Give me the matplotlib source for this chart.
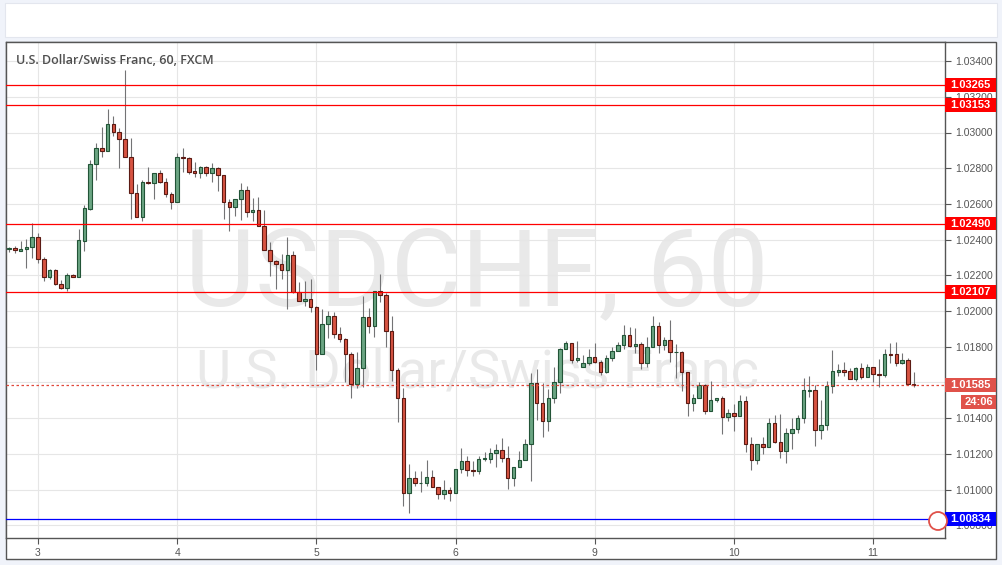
import numpy as np
import matplotlib
matplotlib.use('Agg')
import matplotlib.pyplot as plt
import matplotlib.transforms as mtransforms
from matplotlib.patches import Rectangle, Circle

# hourly USD/CHF candles (open, high, low, close)
opens = np.array([
    1.02346, 1.02351, 1.02338, 1.02346, 1.02357, 1.02413, 1.02290, 1.02189, 1.02230, 1.02150,
    1.02127, 1.02200, 1.02189, 1.02394, 1.02571, 1.02822, 1.02911, 1.02894, 1.03046, 1.03001,
    1.02962, 1.02864, 1.02662, 1.02525, 1.02724, 1.02715, 1.02774, 1.02724, 1.02655, 1.02612,
    1.02862, 1.02855, 1.02784, 1.02771, 1.02805, 1.02771, 1.02799, 1.02760, 1.02609, 1.02581,
    1.02626, 1.02676, 1.02553, 1.02564, 1.02474, 1.02340, 1.02278, 1.02262, 1.02228, 1.02312,
    1.02108, 1.02054, 1.02066, 1.02021, 1.01758, 1.01927, 1.01970, 1.01870, 1.01842, 1.01758,
    1.01593, 1.01679, 1.01965, 1.01914, 1.02110, 1.02088, 1.01886, 1.01668, 1.01511, 1.00979,
    1.01063, 1.01035, 1.01035, 1.01069, 1.01013, 1.00974, 1.00996, 1.00979, 1.01114, 1.01158,
    1.01110, 1.01102, 1.01169, 1.01173, 1.01203, 1.01220, 1.01179, 1.01063, 1.01125, 1.01164,
    1.01254, 1.01595, 1.01483, 1.01382, 1.01511, 1.01601, 1.01786, 1.01819, 1.01724, 1.01685,
    1.01707, 1.01741, 1.01713, 1.01657, 1.01735, 1.01774, 1.01808, 1.01864, 1.01802, 1.01813,
    1.01707, 1.01797, 1.01914, 1.01808, 1.01836, 1.01769, 1.01769, 1.01657, 1.01483, 1.01511,
    1.01587, 1.01438, 1.01500, 1.01511, 1.01405, 1.01427, 1.01410, 1.01494, 1.01254, 1.01164,
    1.01254, 1.01237, 1.01371, 1.01265, 1.01214, 1.01315, 1.01337, 1.01399, 1.01554, 1.01558,
    1.01332, 1.01360, 1.01580, 1.01660, 1.01668, 1.01662, 1.01618, 1.01679, 1.01629, 1.01685,
    1.01647, 1.01640, 1.01759, 1.01758, 1.01707, 1.01724, 1.01591])
highs = np.array([
    1.02360, 1.02364, 1.02390, 1.02402, 1.02491, 1.02437, 1.02304, 1.02234, 1.02234, 1.02174,
    1.02211, 1.02205, 1.02457, 1.02594, 1.02846, 1.02939, 1.03032, 1.03131, 1.03092, 1.03027,
    1.03350, 1.02967, 1.02711, 1.02734, 1.02805, 1.02774, 1.02790, 1.02743, 1.02668, 1.02887,
    1.02911, 1.02864, 1.02834, 1.02812, 1.02814, 1.02827, 1.02808, 1.02760, 1.02626, 1.02626,
    1.02717, 1.02700, 1.02631, 1.02637, 1.02566, 1.02386, 1.02286, 1.02319, 1.02413, 1.02336,
    1.02161, 1.02166, 1.02178, 1.02030, 1.02010, 1.02002, 1.01996, 1.01909, 1.01851, 1.01769,
    1.01772, 1.02084, 1.02015, 1.02110, 1.02206, 1.02099, 1.01972, 1.01679, 1.01567, 1.01143,
    1.01106, 1.01106, 1.01166, 1.01110, 1.01013, 1.01054, 1.01014, 1.01114, 1.01233, 1.01188,
    1.01160, 1.01188, 1.01209, 1.01231, 1.01255, 1.01289, 1.01244, 1.01125, 1.01216, 1.01283,
    1.01651, 1.01673, 1.01595, 1.01562, 1.01685, 1.01791, 1.01832, 1.01819, 1.01830, 1.01752,
    1.01786, 1.01819, 1.01726, 1.01752, 1.01800, 1.01828, 1.01922, 1.01909, 1.01903, 1.01825,
    1.01856, 1.01974, 1.01938, 1.01856, 1.01950, 1.01815, 1.01774, 1.01657, 1.01537, 1.01604,
    1.01593, 1.01610, 1.01511, 1.01522, 1.01450, 1.01478, 1.01528, 1.01522, 1.01293, 1.01254,
    1.01293, 1.01399, 1.01418, 1.01423, 1.01343, 1.01399, 1.01418, 1.01625, 1.01636, 1.01586,
    1.01502, 1.01608, 1.01782, 1.01701, 1.01714, 1.01679, 1.01684, 1.01707, 1.01701, 1.01688,
    1.01731, 1.01786, 1.01819, 1.01826, 1.01763, 1.01735, 1.01658])
lows = np.array([
    1.02330, 1.02323, 1.02334, 1.02242, 1.02295, 1.02270, 1.02170, 1.02178, 1.02146, 1.02122,
    1.02114, 1.02189, 1.02189, 1.02338, 1.02566, 1.02732, 1.02861, 1.02894, 1.02982, 1.02802,
    1.02861, 1.02514, 1.02525, 1.02506, 1.02711, 1.02626, 1.02715, 1.02640, 1.02570, 1.02612,
    1.02777, 1.02765, 1.02752, 1.02746, 1.02754, 1.02724, 1.02674, 1.02517, 1.02450, 1.02532,
    1.02510, 1.02525, 1.02506, 1.02474, 1.02340, 1.02198, 1.02122, 1.02181, 1.02010, 1.02102,
    1.02054, 1.02030, 1.01996, 1.01671, 1.01758, 1.01847, 1.01847, 1.01825, 1.01604, 1.01514,
    1.01567, 1.01576, 1.01878, 1.01856, 1.02052, 1.01800, 1.01610, 1.01380, 1.00910, 1.00870,
    1.01020, 1.00985, 1.01020, 1.01013, 1.00949, 1.00949, 1.00938, 1.00979, 1.01091, 1.01078,
    1.01078, 1.01086, 1.01162, 1.01147, 1.01125, 1.01154, 1.01005, 1.01022, 1.01125, 1.01164,
    1.01050, 1.01390, 1.01293, 1.01326, 1.01483, 1.01539, 1.01786, 1.01706, 1.01713, 1.01685,
    1.01696, 1.01707, 1.01640, 1.01651, 1.01722, 1.01774, 1.01786, 1.01797, 1.01763, 1.01674,
    1.01685, 1.01797, 1.01763, 1.01782, 1.01713, 1.01623, 1.01554, 1.01414, 1.01438, 1.01511,
    1.01425, 1.01438, 1.01490, 1.01313, 1.01382, 1.01326, 1.01410, 1.01209, 1.01108, 1.01141,
    1.01198, 1.01237, 1.01259, 1.01178, 1.01150, 1.01226, 1.01315, 1.01371, 1.01520, 1.01246,
    1.01281, 1.01332, 1.01542, 1.01638, 1.01638, 1.01618, 1.01607, 1.01618, 1.01629, 1.01602,
    1.01576, 1.01629, 1.01707, 1.01692, 1.01701, 1.01591, 1.01573])
closes = np.array([
    1.02353, 1.02340, 1.02347, 1.02357, 1.02414, 1.02290, 1.02189, 1.02230, 1.02151, 1.02127,
    1.02200, 1.02189, 1.02398, 1.02575, 1.02822, 1.02911, 1.02894, 1.03046, 1.03001, 1.02962,
    1.02864, 1.02662, 1.02525, 1.02724, 1.02715, 1.02774, 1.02724, 1.02655, 1.02612, 1.02861,
    1.02855, 1.02780, 1.02771, 1.02805, 1.02771, 1.02799, 1.02760, 1.02609, 1.02581, 1.02626,
    1.02676, 1.02553, 1.02564, 1.02474, 1.02340, 1.02278, 1.02262, 1.02228, 1.02312, 1.02108,
    1.02054, 1.02066, 1.02021, 1.01758, 1.01927, 1.01970, 1.01870, 1.01842, 1.01758, 1.01593,
    1.01679, 1.01965, 1.01914, 1.02110, 1.02088, 1.01886, 1.01668, 1.01511, 1.00979, 1.01063,
    1.01035, 1.01035, 1.01069, 1.01013, 1.00974, 1.00996, 1.00979, 1.01114, 1.01158, 1.01108,
    1.01102, 1.01169, 1.01175, 1.01203, 1.01220, 1.01179, 1.01063, 1.01125, 1.01164, 1.01255,
    1.01595, 1.01483, 1.01382, 1.01511, 1.01601, 1.01786, 1.01819, 1.01724, 1.01735, 1.01707,
    1.01741, 1.01713, 1.01657, 1.01735, 1.01774, 1.01808, 1.01864, 1.01802, 1.01813, 1.01707,
    1.01797, 1.01914, 1.01808, 1.01836, 1.01769, 1.01772, 1.01657, 1.01483, 1.01511, 1.01587,
    1.01438, 1.01500, 1.01511, 1.01405, 1.01427, 1.01410, 1.01494, 1.01254, 1.01164, 1.01254,
    1.01237, 1.01371, 1.01265, 1.01214, 1.01315, 1.01337, 1.01399, 1.01558, 1.01558, 1.01332,
    1.01360, 1.01580, 1.01662, 1.01668, 1.01660, 1.01618, 1.01679, 1.01629, 1.01685, 1.01646,
    1.01640, 1.01758, 1.01754, 1.01707, 1.01724, 1.01591, 1.01585])

# day labels and the candle index where each day starts
day_labels = ['3', '4', '5', '6', '9', '10', '11']
day_index = [5, 29, 53, 77, 101, 125, 149]

# horizontal levels drawn on the chart
red_levels = [1.03265, 1.03153, 1.02490, 1.02107]
blue_level = 1.00834
last_price = 1.01585
countdown = '24:06'

W, H = 1002, 565
PX = 0.001 / 17.85   # price per pixel

fig = plt.figure(figsize=(W / 100, H / 100), dpi=100, facecolor='#f0f3fa')
fig.patches.append(Rectangle((5 / W, 1 - 37 / H), 992 / W, 34 / H, transform=fig.transFigure,
                             facecolor='white', edgecolor='#e3e6ee', lw=0.8, zorder=-2))
fig.patches.append(Rectangle((6 / W, 1 - 559 / H), 990 / W, 517 / H, transform=fig.transFigure,
                             facecolor='white', edgecolor='#555555', lw=1.0, zorder=-2))

ax = fig.add_axes([6 / W, 1 - 538 / H, 939 / W, 496 / H])
ax.set_facecolor('white')

idx = np.arange(len(opens))
up = closes >= opens
bottom = np.minimum(opens, closes)
height = np.abs(closes - opens)

ax.vlines(idx, lows, highs, color='#737375', lw=0.8, zorder=2)
ax.bar(idx[up], height[up], bottom=bottom[up], width=0.6, color='#6ba583',
       edgecolor='#225437', lw=0.8, zorder=3)
ax.bar(idx[~up], height[~up], bottom=bottom[~up], width=0.6, color='#d75442',
       edgecolor='#5b1a13', lw=0.8, zorder=3)

for lv in red_levels:
    ax.axhline(lv, color='#ff0000', lw=0.9, zorder=4)
ax.axhline(blue_level, color='#0000ff', lw=0.9, zorder=4)
ax.axhline(last_price, color='#e0473a', lw=0.9, ls=(0, (2, 2)), zorder=4)

ax.set_xlim(-0.52, 161.4)
ax.set_ylim(1.02 - 227 * PX, 1.02 + 269 * PX)

# watermark
ax.text(0.5016, 0.4698, 'USDCHF, 60', transform=ax.transAxes, ha='center', va='baseline',
        fontsize=78, family='Roboto', color='#e9e9e9', zorder=0.1)
ax.text(0.5016, 0.3034, 'U.S. Dollar/Swiss Franc', transform=ax.transAxes, ha='center',
        va='baseline', fontsize=39, family='Roboto', color='#e9e9e9', zorder=0.1)

ax.text(10 / 939, (538 - 61) / 496, 'U.S. Dollar/Swiss Franc, 60, FXCM', transform=ax.transAxes,
        ha='left', va='center', fontsize=9, family='Open Sans', fontweight='semibold',
        color='#4f4f4f', zorder=6)

ax.set_yticks(np.arange(1.008, 1.0341, 0.002))
ax.set_yticklabels(['%.5f' % v for v in np.arange(1.008, 1.0341, 0.002)])
ax.set_xticks(day_index)
ax.set_xticklabels(day_labels)
ax.yaxis.tick_right()
ax.tick_params(axis='y', length=4, width=0.8, color='#555555', labelcolor='#555555',
               labelsize=7.5, pad=3)
ax.tick_params(axis='x', length=4, width=0.8, color='#555555', labelcolor='#555555',
               labelsize=7.5, pad=3)
for lab in ax.get_xticklabels() + ax.get_yticklabels():
    lab.set_family('Liberation Sans')
ax.grid(True, color='#e6e6e6', lw=0.8)
ax.set_axisbelow(True)
for sp in ax.spines.values():
    sp.set_color('#555555')
    sp.set_linewidth(1.0)

# price tags on the right axis
tr = mtransforms.blended_transform_factory(fig.transFigure, ax.transData)
tag_h = 13.5 * PX


def tag(price, text, color, x0=945, x1=996):
    ax.add_patch(Rectangle((x0 / W, price - tag_h / 2), (x1 - x0) / W, tag_h, transform=tr,
                           facecolor=color, edgecolor='none', clip_on=False, zorder=10))
    ax.text((x0 + x1) / 2 / W, price, text, transform=tr, ha='center', va='center',
            fontsize=8, fontweight='bold', family='Liberation Sans', color='white',
            clip_on=False, zorder=11)


for lv in red_levels:
    tag(lv, '%.5f' % lv, '#ff0000')
tag(blue_level, '%.5f' % blue_level, '#0000ff')
tag(last_price, '%.5f' % last_price, '#e0524a')
tag(last_price - 17 * PX, countdown, '#e0524a', x0=961)

# small logo circle at the bottom right of the plot
fig.patches.append(Circle((938 / 100, (H - 521) / 100), 0.09, transform=fig.dpi_scale_trans,
                          facecolor='white', edgecolor='#e0524a', lw=1.3, zorder=20))

fig.savefig('out.png', dpi=100)
